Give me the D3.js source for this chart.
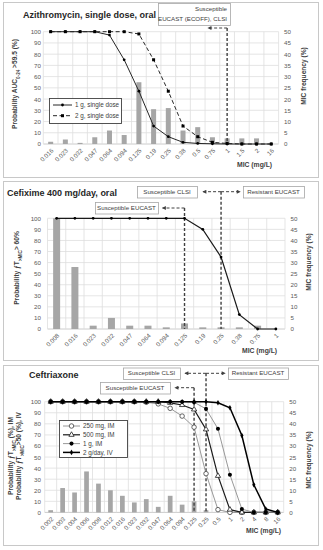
<!DOCTYPE html>
<html>
<head>
<meta charset="utf-8">
<script src="https://cdn.jsdelivr.net/npm/d3@7"></script>
<style>
  body { margin: 0; background: #fff; }
  svg { display: block; font-family: "Liberation Sans Narrow", "Liberation Sans", Arial, sans-serif; }
</style>
</head>
<body>
<script>
// --- Data ---
// Azithromycin, single dose, oral
const aziMic = ["0.016","0.023","0.032","0.047","0.064","0.094","0.125","0.19","0.25","0.38","0.5","0.75","1","1.5","2","16"];
const aziFreq = [1, 2, 0.5, 3, 6, 4, 27.5, 15.5, 16, 6, 7.5, 3, 2.5, 2.5, 2.5, 0];
const azi1g = [100, 100, 100, 100, 97, 75, 47, 16, 6.5, 1.5, 0.5, 0.2, 0, 0, 0, 0];
const azi2g = [100, 100, 100, 100, 100, 100, 98, 75, 47, 16, 6.5, 1.5, 0.5, 0, 0, 0];

// Cefixime 400 mg/day, oral
const cfxMic = ["0.008","0.016","0.023","0.032","0.047","0.064","0.094","0.125","0.19","0.25","0.38","0.75","1"];
const cfxFreq = [50, 28, 1.5, 5, 1.5, 1.5, 0.75, 2.5, 0.75, 0.75, 0.75, 1.5, 0];
const cfxProb = [100, 100, 100, 100, 100, 100, 100, 100, 90, 65, 13, 0, 0];

// Ceftriaxone
const croMic = ["0.002","0.003","0.004","0.006","0.008","0.012","0.016","0.023","0.032","0.047","0.064","0.094","0.125","0.25","0.5","1","2","4","8","16"];
const croFreq = [1, 11, 9, 18.5, 13, 10, 7.5, 4.5, 6, 2.5, 7.5, 3.5, 5, 1, 0, 0, 0, 0, 0, 0];
const cro250 = [100, 100, 100, 100, 100, 100, 100, 100, 99.5, 98, 94, 87, 77, 35, 2.5, 0, 0, 0, 0, 0];
const cro500 = [100, 100, 100, 100, 100, 100, 100, 100, 100, 100, 99, 97, 93, 75, 33, 2.5, 0, 0, 0, 0];
const cro1g = [100, 100, 100, 100, 100, 100, 100, 100, 100, 100, 100, 100, 99.5, 93.5, 75.5, 34, 3, 0, 0, 0];
const cro2g = [100, 100, 100, 100, 100, 100, 100, 100, 100, 100, 100, 100, 100, 100, 99, 94.5, 69.5, 25, 3, 0];

const W = 323, H = 550;
const grey = "#595959";

const svg = d3.select("body").append("svg")
  .attr("width", W).attr("height", H);

// arrow head used on the breakpoint arrows
svg.append("defs").append("marker")
  .attr("id", "ah")
  .attr("markerUnits", "userSpaceOnUse")
  .attr("viewBox", "0 0 6 6")
  .attr("refX", 5).attr("refY", 3)
  .attr("markerWidth", 4.5).attr("markerHeight", 4)
  .attr("orient", "auto-start-reverse")
  .append("path").attr("d", "M0,0L6,3L0,6Z").attr("fill", "#404040");

// writes a label that may carry a subscript part: parts = [[text, isSub], ...]
function richText(sel, parts) {
  parts.forEach(([t, sub]) => {
    const ts = sel.append("tspan").text(t);
    if (sub) ts.attr("font-size", "0.7em").attr("baseline-shift", "sub");
  });
}

function drawPanel(p) {
  const g = svg.append("g");

  // panel frame
  g.append("rect")
    .attr("x", 3.5).attr("y", p.boxTop + 0.5)
    .attr("width", 315).attr("height", p.boxBottom - p.boxTop)
    .attr("fill", "#fff").attr("stroke", "#c8c8c8");

  const x = d3.scaleBand().domain(p.mic).range([p.left, p.right]);
  const bw = x.bandwidth();
  const xc = (m) => x(m) + bw / 2;
  const y = d3.scaleLinear().domain([0, 100]).range([p.bottom, p.top]);
  const y2 = d3.scaleLinear().domain([0, 50]).range([p.bottom, p.top]);

  // gridlines
  g.append("g").selectAll("line").data(y.ticks(10)).join("line")
    .attr("x1", p.left).attr("x2", p.right)
    .attr("y1", (d) => y(d)).attr("y2", (d) => y(d))
    .attr("stroke", (d) => (d === 0 ? "#bfbfbf" : "#dedede")).attr("stroke-width", 0.8);
  g.append("g").selectAll("line").data(p.mic.map((m) => x(m)).concat([p.right])).join("line")
    .attr("x1", (d) => d).attr("x2", (d) => d)
    .attr("y1", p.top).attr("y2", p.bottom)
    .attr("stroke", "#dedede").attr("stroke-width", 0.8);

  // axes (labels only)
  const axL = g.append("g").attr("transform", `translate(${p.left},0)`)
    .call(d3.axisLeft(y).ticks(10).tickSize(0).tickPadding(p.left - 41));
  const axR = g.append("g").attr("transform", `translate(${p.right},0)`)
    .call(d3.axisRight(y2).ticks(10).tickSize(0).tickPadding(5.5));
  const axB = g.append("g").attr("transform", `translate(0,${p.bottom})`)
    .call(d3.axisBottom(x).tickSize(0));
  [axL, axR, axB].forEach((a) => {
    a.select(".domain").remove();
    a.selectAll("text").attr("font-size", 6.2).attr("fill", grey).attr("font-family", null);
  });
  axB.selectAll("text")
    .attr("text-anchor", "end").attr("dy", null).attr("y", 0)
    .attr("dominant-baseline", "middle")
    .attr("transform", "translate(2,6) rotate(-45)");

  // MIC frequency bars (right axis)
  g.append("g").selectAll("rect").data(p.freq).join("rect")
    .attr("x", (d, i) => xc(p.mic[i]) - p.barW / 2)
    .attr("width", p.barW)
    .attr("y", (d) => y2(d))
    .attr("height", (d) => p.bottom - y2(d))
    .attr("fill", "#a6a6a6");

  // breakpoint annotations
  p.breaks.forEach((b) => {
    const bx = xc(b.mic);
    g.append("line")
      .attr("x1", bx).attr("x2", bx).attr("y1", b.y).attr("y2", p.bottom)
      .attr("stroke", "#404040").attr("stroke-width", 1.4).attr("stroke-dasharray", "3,2");
    b.arrows.forEach((dx) => {
      g.append("line")
        .attr("x1", bx).attr("x2", bx + dx).attr("y1", b.y).attr("y2", b.y)
        .attr("stroke", "#404040").attr("stroke-width", 1).attr("stroke-dasharray", "3,2")
        .attr("marker-end", "url(#ah)");
    });
  });
  p.notes.forEach((n) => {
    g.append("rect")
      .attr("x", n.x0 + 0.5).attr("y", n.y0 + 0.5)
      .attr("width", n.x1 - n.x0).attr("height", n.y1 - n.y0)
      .attr("fill", "#fff").attr("stroke", "#a6a6a6").attr("stroke-width", 0.8);
    n.lines.forEach((t, i) => {
      g.append("text")
        .attr("x", n.anchor === "end" ? n.x1 - 3 : (n.x0 + n.x1) / 2)
        .attr("y", n.y0 + 7.8 + i * 10)
        .attr("text-anchor", n.anchor || "middle")
        .attr("font-size", 6.2).attr("fill", "#404040")
        .text(t);
    });
  });

  // probability lines
  const line = d3.line().x((d, i) => xc(p.mic[i])).y((d) => y(d));
  p.series.forEach((s) => {
    g.append("path").datum(s.values)
      .attr("d", line).attr("fill", "none")
      .attr("stroke", s.stroke).attr("stroke-width", s.width)
      .attr("stroke-dasharray", s.dash || null);
    g.append("g").selectAll("path").data(s.values).join("path")
      .attr("transform", (d, i) => `translate(${xc(p.mic[i])},${y(d)})`)
      .attr("d", d3.symbol(s.symbol, s.size))
      .attr("fill", s.fill).attr("stroke", s.mstroke || "none").attr("stroke-width", 0.8);
  });

  // legend
  if (p.legend) {
    const L = p.legend;
    g.append("rect")
      .attr("x", L.x0 + 0.5).attr("y", L.y0 + 0.5)
      .attr("width", L.x1 - L.x0).attr("height", L.y1 - L.y0)
      .attr("fill", "#fff").attr("stroke", "#404040").attr("stroke-width", 0.9);
    p.series.forEach((s, i) => {
      const ly = L.y0 + L.first + i * L.step;
      g.append("line")
        .attr("x1", L.x0 + 4).attr("x2", L.x0 + 4 + L.len).attr("y1", ly).attr("y2", ly)
        .attr("stroke", s.stroke).attr("stroke-width", s.width)
        .attr("stroke-dasharray", s.dash || null);
      g.append("path")
        .attr("transform", `translate(${L.x0 + 4 + L.len / 2},${ly})`)
        .attr("d", d3.symbol(s.symbol, s.size))
        .attr("fill", s.fill).attr("stroke", s.mstroke || "none").attr("stroke-width", 0.8);
      g.append("text")
        .attr("x", L.x0 + 7 + L.len).attr("y", ly + 2.2)
        .attr("font-size", 6.3).attr("fill", "#404040")
        .text(s.name);
    });
  }

  // titles
  g.append("text")
    .attr("x", p.titleX).attr("y", p.titleY)
    .attr("font-size", 9).attr("font-weight", "bold").attr("fill", "#262626")
    .text(p.title);
  g.append("text")
    .attr("x", p.xLabelX).attr("y", p.xLabelY)
    .attr("font-size", 6.8).attr("font-weight", "bold").attr("fill", "#404040")
    .text("MIC (mg/L)");
  p.yTitles.forEach((t) => {
    const tx = g.append("text")
      .attr("transform", `translate(${t.x},${t.y}) rotate(-90)`)
      .attr("text-anchor", "middle")
      .attr("font-size", 6.6).attr("font-weight", "bold").attr("fill", "#404040");
    richText(tx, t.parts);
  });
  g.append("text")
    .attr("transform", `translate(${p.y2X},${p.y2Y}) rotate(-90)`)
    .attr("text-anchor", "middle")
    .attr("font-size", 6.6).attr("font-weight", "bold").attr("fill", "#404040")
    .text("MIC frequency (%)");
}

drawPanel({
  boxTop: 2, boxBottom: 177,
  left: 43.3, right: 278.6, top: 31.7, bottom: 144,
  mic: aziMic, freq: aziFreq, barW: 5,
  series: [
    { name: "1 g, single dose", values: azi1g, stroke: "#262626", width: 1, symbol: d3.symbolCircle, size: 6, fill: "#000" },
    { name: "2 g, single dose", values: azi2g, stroke: "#262626", width: 1, dash: "4,2.5", symbol: d3.symbolSquare, size: 9, fill: "#000" }
  ],
  legend: { x0: 49, y0: 98, x1: 121, y1: 123, first: 7, step: 10.7, len: 19 },
  breaks: [{ mic: "1", y: 28, arrows: [-19] }],
  notes: [{ lines: ["Susceptible", "EUCAST (ECOFF), CLSI"], x0: 158, y0: 3, x1: 230, y1: 25, anchor: "end" }],
  title: "Azithromycin, single dose, oral", titleX: 23, titleY: 18,
  xLabelX: 237, xLabelY: 167,
  yTitles: [{ x: 17, y: 84, parts: [["Probability AUC", false], ["0-24", true], [" >59.5 (%)", false]] }],
  y2X: 306, y2Y: 76
});

drawPanel({
  boxTop: 181, boxBottom: 360,
  left: 47.5, right: 285, top: 218.3, bottom: 329,
  mic: cfxMic, freq: cfxFreq, barW: 7,
  series: [
    { name: "400 mg/day", values: cfxProb, stroke: "#1a1a1a", width: 1.2, symbol: d3.symbolCircle, size: 6, fill: "#000" }
  ],
  breaks: [
    { mic: "0.25", y: 191.7, arrows: [-18, 19] },
    { mic: "0.125", y: 208, arrows: [-22] }
  ],
  notes: [
    { lines: ["Susceptible CLSI"], x0: 137, y0: 186, x1: 197, y1: 197.5 },
    { lines: ["Resistant EUCAST"], x0: 243, y0: 186, x1: 304, y1: 197.5 },
    { lines: ["Susceptible EUCAST"], x0: 95, y0: 202, x1: 158, y1: 213.5 }
  ],
  title: "Cefixime 400 mg/day, oral", titleX: 7, titleY: 196,
  xLabelX: 242, xLabelY: 353,
  yTitles: [{ x: 19, y: 268, parts: [["Probability ƒT", false], [">MIC", true], ["> 60%", false]] }],
  y2X: 311, y2Y: 262
});

drawPanel({
  boxTop: 365, boxBottom: 545,
  left: 44.7, right: 283.7, top: 401.7, bottom: 512.4,
  mic: croMic, freq: croFreq, barW: 4.7,
  series: [
    { name: "250 mg, IM", values: cro250, stroke: "#8c8c8c", width: 0.9, symbol: d3.symbolCircle, size: 16, fill: "#fff", mstroke: "#404040" },
    { name: "500 mg, IM", values: cro500, stroke: "#1a1a1a", width: 1.2, symbol: d3.symbolTriangle, size: 12, fill: "#fff", mstroke: "#1a1a1a" },
    { name: "1 g, IM", values: cro1g, stroke: "#8c8c8c", width: 0.9, symbol: d3.symbolCircle, size: 13, fill: "#000" },
    { name: "2 g/day, IV", values: cro2g, stroke: "#000", width: 1.5, symbol: d3.symbolDiamond, size: 9, fill: "#000" }
  ],
  legend: { x0: 59, y0: 420, x1: 127, y1: 457, first: 6, step: 8.8, len: 17 },
  breaks: [
    { mic: "0.25", y: 373.3, arrows: [-21, 19] },
    { mic: "0.125", y: 387.7, arrows: [-19] }
  ],
  notes: [
    { lines: ["Susceptible CLSI"], x0: 123, y0: 367.5, x1: 180, y1: 379 },
    { lines: ["Resistant EUCAST"], x0: 228, y0: 367.5, x1: 288, y1: 379 },
    { lines: ["Susceptible EUCAST"], x0: 100, y0: 382, x1: 170, y1: 393.5 }
  ],
  title: "Ceftriaxone", titleX: 29, titleY: 378,
  xLabelX: 246, xLabelY: 533,
  yTitles: [
    { x: 13, y: 456, parts: [["Probability ƒT", false], [">MIC", true], [" (%), IM", false]] },
    { x: 21, y: 456, parts: [["Probability ƒT", false], [">MIC", true], [">50 (%), IV", false]] }
  ],
  y2X: 311, y2Y: 460
});
</script>
</body>
</html>
